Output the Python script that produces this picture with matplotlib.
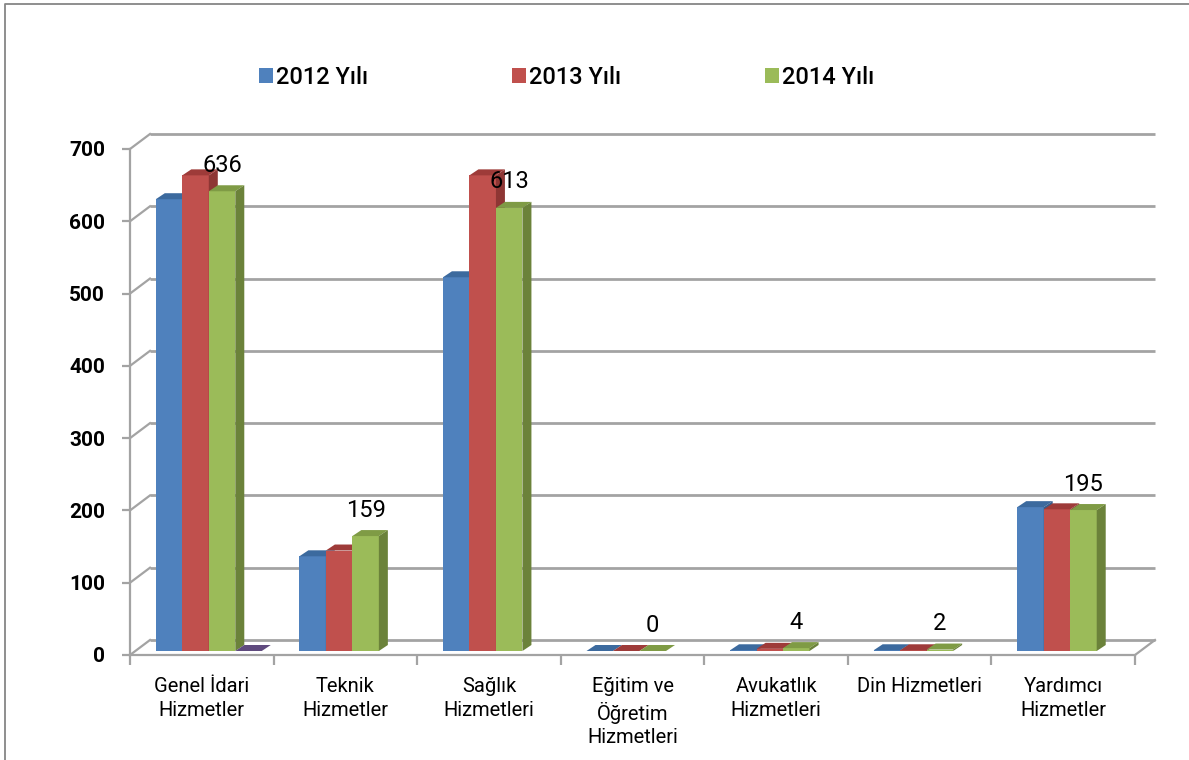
import numpy as np
import matplotlib
matplotlib.use("Agg")
import matplotlib.pyplot as plt
from matplotlib.patches import Polygon, Patch
from matplotlib.lines import Line2D

# chart data
categories = ["Genel İdari\nHizmetler", "Teknik\nHizmetler", "Sağlık\nHizmetleri",
              "Eğitim ve\nÖğretim\nHizmetleri", "Avukatlık\nHizmetleri",
              "Din Hizmetleri", "Yardımcı\nHizmetler"]
series_names = ["2012 Yılı", "2013 Yılı", "2014 Yılı"]
values_2012 = [625, 131, 517, 0, 1, 1, 199]
values_2013 = [658, 139, 658, 0, 3, 1, 196]
values_2014 = [636, 159, 613, 0, 4, 2, 195]
# empty fourth series, only its floor sliver shows under the first group
values_extra = [0, None, None, None, None, None, None]
y_ticks = [0, 100, 200, 300, 400, 500, 600, 700]

# colours: front, top, side
colors = [("#4F81BD", "#3C6A9E", "#385D8A"),
          ("#C0504D", "#9E3B39", "#8E3634"),
          ("#9BBB59", "#7F9B45", "#6B823A"),
          ("#8064A2", "#5F4A7E", "#54416F")]

plt.rcParams['font.family'] = ['Roboto', 'DejaVu Sans']

W, H = 1189, 760
fig = plt.figure(figsize=(W / 100, H / 100), dpi=100)
# axes box = front plane of the 3d chart
ax_l, ax_r, ax_t, ax_b = 130, 1135, 149, 655
ax = fig.add_axes([ax_l / W, 1 - ax_b / H, (ax_r - ax_l) / W, (ax_b - ax_t) / H])
n_cat = len(categories)
ax.set_xlim(0, n_cat)
ax.set_ylim(0, 700)

# pixel -> data unit helpers
px_x = (ax_r - ax_l) / n_cat
px_y = (ax_b - ax_t) / 700.0
def dx(p):
    return p / px_x
def dy(p):
    return p / px_y

wall_dx, wall_dy = dx(20), dy(15)
grid_c = "#A3A3A3"

# back wall gridlines + side wall diagonals
for v in y_ticks:
    ax.plot([wall_dx, n_cat + wall_dx], [v + wall_dy, v + wall_dy], color=grid_c,
            lw=2.0, clip_on=False, zorder=1, solid_capstyle='butt')
    ax.plot([0, wall_dx], [v, v + wall_dy], color=grid_c, lw=1.6, clip_on=False, zorder=1)
# floor right edge
ax.plot([n_cat, n_cat + wall_dx], [0, wall_dy], color=grid_c, lw=1.6, clip_on=False, zorder=1)

# bars
bar_w = dx(26.5)
front_dx, front_dy = dx(7), dy(4)
depth_dx, depth_dy = dx(9), dy(6)
all_series = [values_2012, values_2013, values_2014, values_extra]
n_slots = len(all_series)
for s, vals in enumerate(all_series):
    fc, tc, sc = colors[s]
    xs, hs = [], []
    for i, v in enumerate(vals):
        if v is None:
            continue
        xs.append(i + 0.5 - n_slots * bar_w / 2 + s * bar_w + front_dx)
        hs.append(v)
    ax.bar(xs, hs, width=bar_w, bottom=front_dy, align='edge', color=fc,
           linewidth=0, zorder=3)
    for x0, v in zip(xs, hs):
        x1 = x0 + bar_w
        top = v + front_dy
        ax.add_patch(Polygon([(x0, top), (x1, top), (x1 + depth_dx, top + depth_dy),
                              (x0 + depth_dx, top + depth_dy)], closed=True,
                             facecolor=tc, edgecolor='none', zorder=3))
        if v > 0:
            ax.add_patch(Polygon([(x1, front_dy), (x1, top), (x1 + depth_dx, top + depth_dy),
                                  (x1 + depth_dx, front_dy + depth_dy)], closed=True,
                                 facecolor=sc, edgecolor='none', zorder=3))

# data labels on the 2014 series
for i, v in enumerate(values_2014):
    xc = i + 0.5 - n_slots * bar_w / 2 + 2.5 * bar_w + front_dx
    ax.annotate(str(v), xy=(xc, v + front_dy), xytext=(0, 26), textcoords='offset pixels',
                ha='center', va='center', fontsize=17, color='black', zorder=5)

# axes styling
for side in ['top', 'right']:
    ax.spines[side].set_visible(False)
for side in ['left', 'bottom']:
    ax.spines[side].set_color(grid_c)
    ax.spines[side].set_linewidth(1.6)
ax.set_facecolor('none')
ax.set_yticks(y_ticks)
ax.set_yticklabels([str(t) for t in y_ticks], fontweight='bold')
ax.tick_params(axis='y', direction='out', length=6, width=1.6, color=grid_c,
               pad=12, labelsize=15)
ax.set_xticks(range(n_cat + 1))
ax.set_xticklabels([])
ax.set_xticks([i + 0.5 for i in range(n_cat)], minor=True)
ax.set_xticklabels(categories, minor=True, fontsize=14.5, linespacing=1.3, va='top')
ax.tick_params(axis='x', which='major', direction='out', length=7, width=1.6, color=grid_c)
ax.tick_params(axis='x', which='minor', length=0, pad=16)

# legend
handles = [Patch(facecolor=colors[k][0], edgecolor='none') for k in range(3)]
fig.legend(handles, series_names, loc='center left',
           bbox_to_anchor=(259 / W, 1 - 77 / H), ncol=3, frameon=False,
           handlelength=0.6, handleheight=0.6, handletextpad=0.12,
           columnspacing=6.1, borderpad=0, borderaxespad=0,
           prop={'size': 17, 'weight': 'medium'})

# outer chart frame
fig.add_artist(Line2D([5 / W, 5 / W, 1], [0, 1 - 4 / H, 1 - 4 / H],
                      transform=fig.transFigure, color='#868686', lw=1.3))

fig.savefig("out.png", dpi=100)
